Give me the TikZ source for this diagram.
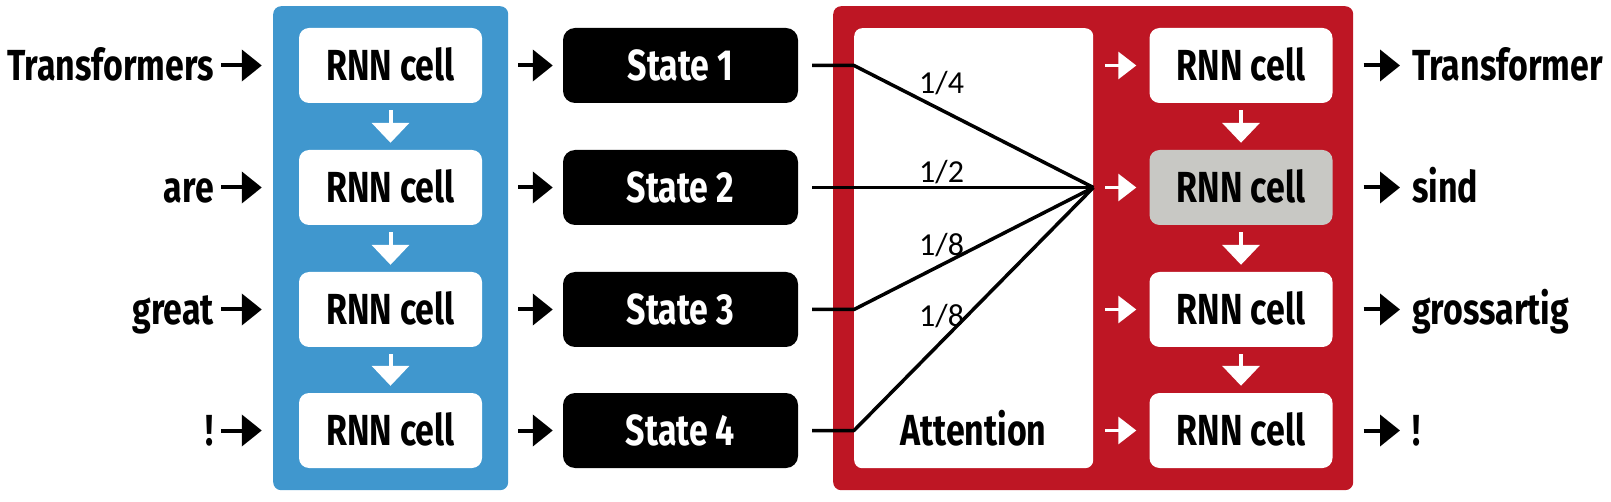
\documentclass[tikz,border=0pt]{standalone}
\usepackage{fontspec}
\setmainfont{Fira Sans}[FakeStretch=0.78]
\newfontfamily\lblfont{Carlito}
\usetikzlibrary{arrows.meta}
\definecolor{encblue}{RGB}{64,151,206}
\definecolor{decred}{RGB}{190,22,36}
\definecolor{cellgray}{RGB}{200,200,196}
\begin{document}
\begin{tikzpicture}[x=1pt,y=-1pt,
  big/.style={font=\fontsize{43.5}{50}\selectfont\bfseries, inner sep=0pt, text height=30pt, text depth=0pt},
  cell/.style={big, fill=white, rounded corners=10pt, minimum width=183pt, minimum height=75pt},
  graycell/.style={cell, fill=cellgray},
  statebox/.style={big, fill=black, text=white, rounded corners=12pt, minimum width=235pt, minimum height=75pt},
  container/.style={inner sep=0pt, rounded corners=8pt, anchor=north west},
  arr/.style={line width=4pt, -{Triangle[length=20pt,width=31pt]}},
  warr/.style={draw=white, line width=3pt, -{Triangle[length=18pt,width=27pt]}},
  darr/.style={draw=white, line width=4pt, -{Triangle[length=20pt,width=37pt]}},
  link/.style={line width=3.5pt, line join=round},
  wt/.style={font=\lblfont\fontsize{32}{36}\selectfont, inner sep=0pt, anchor=base west}
]
\useasboundingbox (0,0) rectangle (1611,502);

% containers
\node[container, fill=encblue, minimum width=235pt, minimum height=484pt] (enc) at (273,6) {};
\node[container, fill=decred, minimum width=520pt, minimum height=484pt] (dec) at (833,6) {};
\node[container, fill=white, minimum width=239pt, minimum height=440pt] (att) at (854,28) {};
\node[big] (attl) at (973.5,430.5) {Attention};

% encoder cells
\node[cell] (c1) at (390.5,65.5) {RNN cell};
\node[cell] (c2) at (390.5,187.5) {RNN cell};
\node[cell] (c3) at (390.5,309.5) {RNN cell};
\node[cell] (c4) at (390.5,430.5) {RNN cell};

% input words
\node[big, anchor=east] (w1) at (214,65.5) {Transformers};
\node[big, anchor=east] (w2) at (214,187.5) {are};
\node[big, anchor=east] (w3) at (214,309.5) {great};
\node[big, anchor=east] (w4) at (214,430.5) {!};

% states
\node[statebox] (s1) at (680.5,65.5) {State 1};
\node[statebox] (s2) at (680.5,187.5) {State 2};
\node[statebox] (s3) at (680.5,309.5) {State 3};
\node[statebox] (s4) at (680.5,430.5) {State 4};

% decoder cells
\node[cell] (r1) at (1241,65.5) {RNN cell};
\node[graycell] (r2) at (1241,187.5) {RNN cell};
\node[cell] (r3) at (1241,309.5) {RNN cell};
\node[cell] (r4) at (1241,430.5) {RNN cell};

% output words
\node[big, anchor=west] (o1) at (1412,65.5) {Transformer};
\node[big, anchor=west] (o2) at (1412,187.5) {sind};
\node[big, anchor=west] (o3) at (1412,309.5) {grossartig};
\node[big, anchor=west] (o4) at (1412,430.5) {!};

% arrows along each row
\foreach \i in {1,2,3,4}{
  \draw[arr, shorten <=7pt, shorten >=37pt] (w\i.east) -- (c\i.west);
  \draw[arr, shorten <=36pt, shorten >=10pt] (c\i.east) -- (s\i.west);
  \draw[warr, shorten <=12pt, shorten >=13pt] (att.east |- r\i.west) -- (r\i.west);
  \draw[arr, shorten <=31pt, shorten >=12pt] (r\i.east) -- (o\i.west);
}

% down arrows
\foreach \a/\b in {1/2,2/3,3/4}{
  \draw[darr, shorten <=7pt, shorten >=7pt] (c\a.south) -- (c\b.north);
  \draw[darr, shorten <=7pt, shorten >=7pt] (r\a.south) -- (r\b.north);
}

% attention links
\coordinate (conv) at (att.east |- r2.center);
\draw[link] ([xshift=14pt]s1.east) -- (att.west |- s1.east) -- (conv);
\draw[link] ([xshift=14pt]s2.east) -- (conv);
\draw[link] ([xshift=14pt]s3.east) -- (att.west |- s3.east) -- (conv);
\draw[link] ([xshift=14pt]s4.east) -- (att.west |- s4.east) -- (conv);

% weights
\node[wt] (l1) at (919,94) {1/4};
\node[wt] (l2) at (919,183) {1/2};
\node[wt] (l3) at (919,256) {1/8};
\node[wt] (l4) at (919,327) {1/8};
\end{tikzpicture}
\end{document}
